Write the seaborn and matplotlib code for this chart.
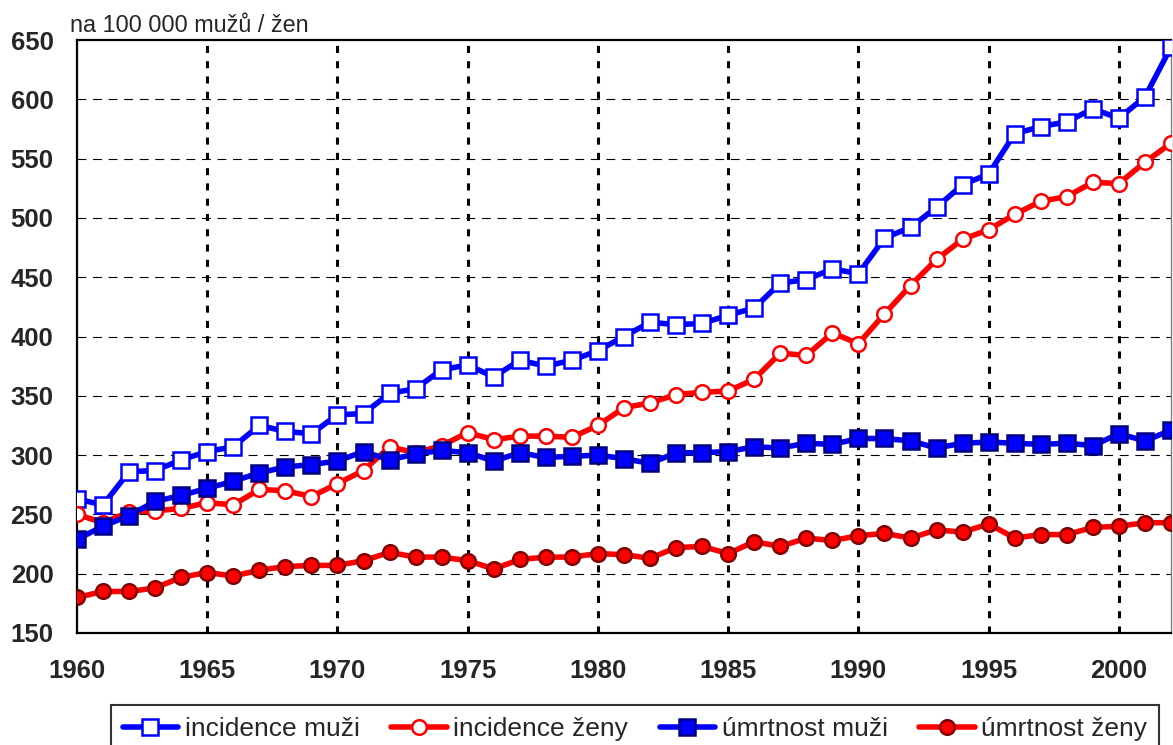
import matplotlib
matplotlib.use("Agg")
import matplotlib.pyplot as plt
import seaborn as sns

# roky 1960-2002
roky = list(range(1960, 2003))

# incidence a úmrtnost na 100 000 mužů / žen
incidence_muzi = [263, 258, 286, 287, 296, 303, 307, 325, 320, 318,
                  334, 335, 352, 356, 372, 376, 366, 380, 375, 380,
                  388, 400, 412, 410, 411, 418, 424, 445, 448, 457,
                  453, 483, 492, 509, 528, 537, 571, 577, 581, 592,
                  584, 602, 644]
incidence_zeny = [250, 243, 252, 253, 255, 260, 258, 271, 270, 265,
                  276, 287, 307, 302, 308, 319, 313, 316, 316, 315,
                  325, 340, 344, 351, 353, 354, 364, 386, 384, 403,
                  394, 419, 443, 465, 482, 490, 503, 514, 518, 530,
                  529, 547, 563]
umrtnost_muzi = [229, 240, 249, 261, 266, 272, 278, 285, 290, 292,
                 295, 303, 296, 301, 304, 302, 295, 302, 298, 299,
                 300, 297, 293, 302, 302, 303, 307, 306, 310, 309,
                 314, 314, 312, 306, 310, 311, 310, 309, 310, 308,
                 318, 312, 321]
umrtnost_zeny = [180, 185, 185, 188, 197, 201, 198, 203, 206, 207,
                 207, 211, 218, 214, 214, 211, 204, 212, 214, 214,
                 217, 216, 213, 222, 223, 217, 227, 223, 230, 228,
                 232, 234, 230, 237, 235, 242, 230, 233, 233, 239,
                 240, 243, 243]

popisky = ["incidence muži", "incidence ženy", "úmrtnost muži", "úmrtnost ženy"]
x_ticky = list(range(1960, 2001, 5))
y_ticky = list(range(150, 651, 50))

sns.set_style("white")
plt.rcParams["font.family"] = ["Liberation Sans", "DejaVu Sans"]

W, H = 1173, 745
fig = plt.figure(figsize=(W / 100, H / 100), dpi=100)
ax = fig.add_axes([77 / W, 1 - 633 / H, (1171 - 77) / W, (633 - 40) / H])

# styly řad: barva, značka, výplň, okraj značky
styly = [
    ("#0000FF", "s", "white", "#0000FF", 11),
    ("#FF0000", "o", "white", "#FF0000", 10.5),
    ("#0000FF", "s", "#0000FF", "#000080", 11),
    ("#FF0000", "o", "#FF0000", "#800000", 10.5),
]
rady = [incidence_muzi, incidence_zeny, umrtnost_muzi, umrtnost_zeny]

for hodnoty, popis, (barva, znacka, vypln, okraj, vel) in zip(rady, popisky, styly):
    sns.lineplot(x=roky, y=hodnoty, ax=ax, color=barva, lw=4,
                 marker=znacka, markersize=vel, markerfacecolor=vypln,
                 markeredgecolor=okraj, markeredgewidth=1.8,
                 label=popis, zorder=3)

ax.set_xlim(1960, 2002)
ax.set_ylim(150, 650)
ax.set_xticks(x_ticky)
ax.set_yticks(y_ticky)
ax.set_xlabel("")
ax.set_ylabel("")

# mřížka
for y in y_ticky[1:-1]:
    ax.axhline(y, color="black", lw=0.8, linestyle=(0, (8, 6)), zorder=1)
for x in x_ticky[1:]:
    ax.axvline(x, color="black", lw=2.2, linestyle=(0, (2.3, 2.7)), zorder=1)

for s in ["left", "bottom", "top"]:
    ax.spines[s].set_color("black")
    ax.spines[s].set_linewidth(1.6)
ax.spines["right"].set_color("#808080")
ax.spines["right"].set_linewidth(1.0)

ax.tick_params(axis="both", which="major", direction="out", length=7,
               width=1.6, color="black", labelsize=18.5)
ax.tick_params(axis="y", pad=10)
ax.tick_params(axis="x", pad=12)
for t in ax.get_xticklabels() + ax.get_yticklabels():
    t.set_fontweight("bold")

fig.text(70 / W, 1 - 32 / H, "na 100 000 mužů / žen", fontsize=16.8,
         ha="left", va="baseline")

handles, labels = ax.get_legend_handles_labels()
ax.get_legend().remove()
leg = fig.legend(handles, labels, loc="upper center",
                 bbox_to_anchor=(635 / W, 1 - 705 / H), ncol=4,
                 frameon=True, fancybox=False, edgecolor="black",
                 fontsize=19, handlelength=2.1, handletextpad=0.25,
                 columnspacing=1.2, borderpad=0.45, borderaxespad=0)
leg.get_frame().set_linewidth(1.5)

fig.savefig("out.png", dpi=100)
